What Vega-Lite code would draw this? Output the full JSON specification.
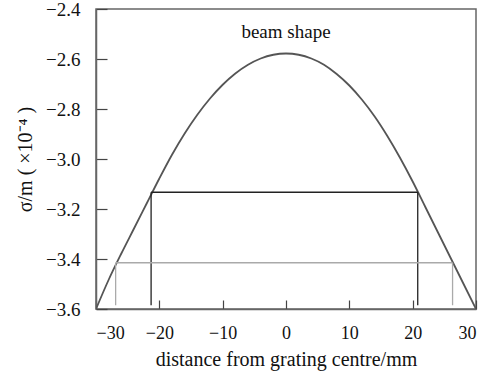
{
  "$schema": "https://vega.github.io/schema/vega-lite/v6.json",
  "width": 380,
  "height": 300,
  "autosize": "none",
  "padding": {"left": 96, "top": 9, "right": 10, "bottom": 65},
  "config": {
    "font": "Liberation Serif",
    "view": {"stroke": "#666", "strokeWidth": 1.5},
    "axis": {
      "grid": false,
      "domainColor": "#666",
      "domainWidth": 1.5,
      "tickColor": "#444",
      "tickWidth": 1.2,
      "labelFont": "Liberation Serif",
      "titleFont": "Liberation Serif",
      "labelColor": "#111",
      "titleColor": "#111",
      "labelFontSize": 18,
      "titleFontSize": 20,
      "titleFontWeight": "normal"
    },
    "axisQuantitative": {"labelFont": "Liberation Serif", "labelFontSize": 18}
  },
  "layer": [
    {
      "data": {"values": [
        {"x": -30, "y": -3.6},
        {"x": -28, "y": -3.483},
        {"x": -26, "y": -3.378},
        {"x": -24, "y": -3.278},
        {"x": -22, "y": -3.178},
        {"x": -20, "y": -3.078},
        {"x": -18, "y": -2.983},
        {"x": -16, "y": -2.898},
        {"x": -14, "y": -2.823},
        {"x": -12, "y": -2.758},
        {"x": -10, "y": -2.703},
        {"x": -8, "y": -2.658},
        {"x": -6, "y": -2.623},
        {"x": -4, "y": -2.598},
        {"x": -2, "y": -2.583},
        {"x": 0, "y": -2.578},
        {"x": 2, "y": -2.583},
        {"x": 4, "y": -2.598},
        {"x": 6, "y": -2.623},
        {"x": 8, "y": -2.660},
        {"x": 10, "y": -2.706},
        {"x": 12, "y": -2.763},
        {"x": 14, "y": -2.830},
        {"x": 16, "y": -2.908},
        {"x": 18, "y": -2.995},
        {"x": 20, "y": -3.090},
        {"x": 22, "y": -3.192},
        {"x": 24, "y": -3.294},
        {"x": 26, "y": -3.396},
        {"x": 28, "y": -3.498},
        {"x": 30, "y": -3.6}
      ]},
      "mark": {"type": "line", "color": "#555", "strokeWidth": 1.8, "clip": true, "interpolate": "monotone"},
      "encoding": {
        "x": {
          "field": "x", "type": "quantitative",
          "scale": {"domain": [-30, 30], "nice": false},
          "axis": {"values": [-30, -20, -10, 0, 10, 20, 30], "tickSize": -9, "labelPadding": 24, "labelFont": "Liberation Serif", "labelFontSize": 18, "title": "distance from grating centre/mm", "titlePadding": 7}
        },
        "y": {
          "field": "y", "type": "quantitative",
          "scale": {"domain": [-3.6, -2.4], "nice": false, "zero": false},
          "axis": {"values": [-3.6, -3.4, -3.2, -3.0, -2.8, -2.6, -2.4], "format": ".1f", "tickSize": -11, "labelPadding": 27, "labelFont": "Liberation Serif", "labelFontSize": 19, "title": "σ/m  ( ×10⁻⁴ )", "titlePadding": 10}
        }
      }
    },
    {
      "data": {"values": [
        {"x": -21.3, "x2": -21.3, "y": -3.585, "y2": -3.133, "c": "black"},
        {"x": 20.8, "x2": 20.8, "y": -3.585, "y2": -3.133, "c": "black"},
        {"x": -21.3, "x2": 20.8, "y": -3.133, "y2": -3.133, "c": "black"},
        {"x": -26.9, "x2": -26.9, "y": -3.585, "y2": -3.415, "c": "gray"},
        {"x": 26.3, "x2": 26.3, "y": -3.585, "y2": -3.415, "c": "gray"},
        {"x": -26.9, "x2": 26.3, "y": -3.415, "y2": -3.415, "c": "gray"}
      ]},
      "mark": {"type": "rule", "strokeWidth": 1.3},
      "encoding": {
        "x": {"field": "x", "type": "quantitative"},
        "x2": {"field": "x2"},
        "y": {"field": "y", "type": "quantitative"},
        "y2": {"field": "y2"},
        "color": {"field": "c", "type": "nominal", "scale": {"domain": ["black", "gray"], "range": ["#222", "#aaa"]}, "legend": null}
      }
    },
    {
      "data": {"values": [{"x": 0, "y": -2.49, "t": "beam shape"}]},
      "mark": {"type": "text", "fontSize": 19, "font": "Liberation Serif", "color": "#111"},
      "encoding": {
        "x": {"field": "x", "type": "quantitative"},
        "y": {"field": "y", "type": "quantitative"},
        "text": {"field": "t"}
      }
    }
  ]
}
